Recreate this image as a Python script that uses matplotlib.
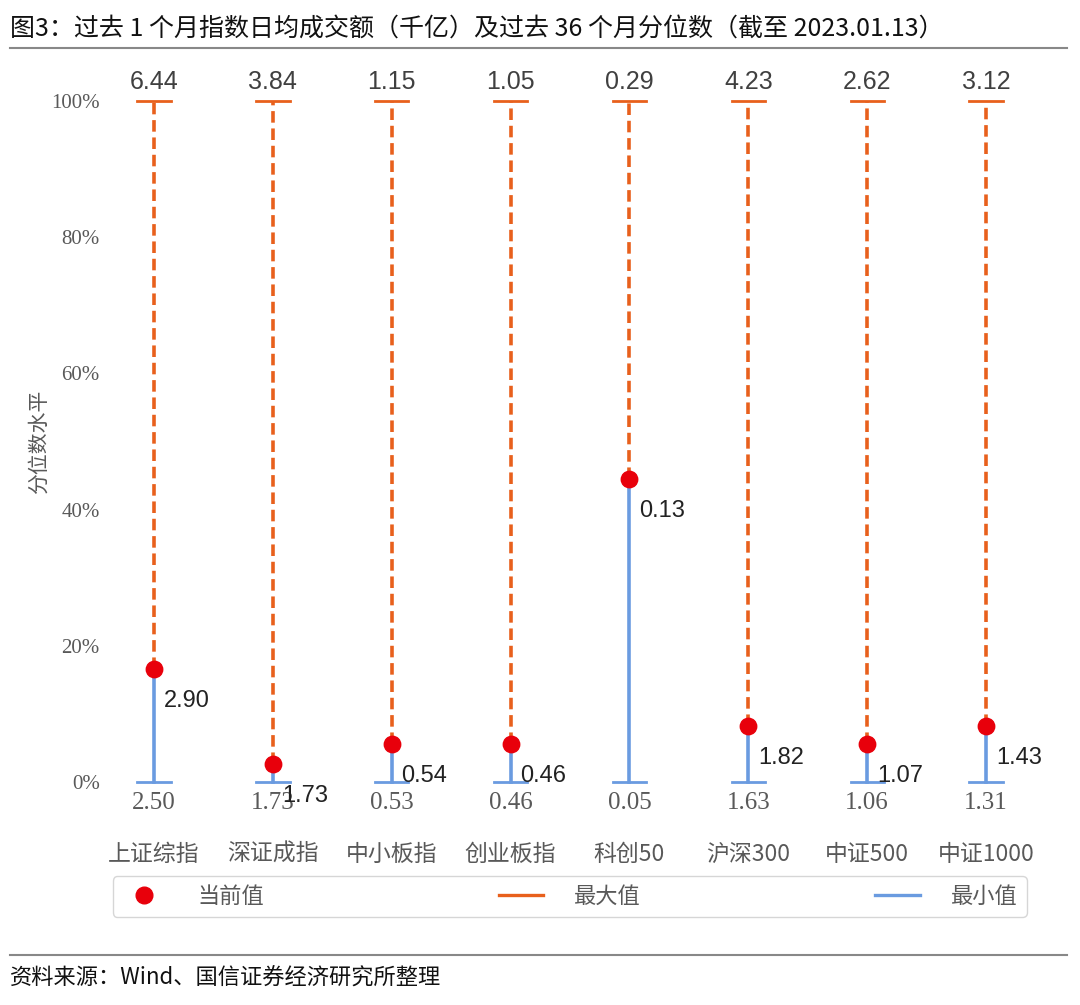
import matplotlib.pyplot as plt
from matplotlib.lines import Line2D

plt.rcParams['font.family'] = ['Noto Sans CJK SC', 'DejaVu Sans']

categories = ['上证综指', '深证成指', '中小板指', '创业板指', '科创50', '沪深300', '中证500', '中证1000']
percentile = [16.6, 2.6, 5.6, 5.6, 44.5, 8.2, 5.6, 8.2]
max_amt = [6.44, 3.84, 1.15, 1.05, 0.29, 4.23, 2.62, 3.12]
min_amt = [2.50, 1.73, 0.53, 0.46, 0.05, 1.63, 1.06, 1.31]
cur_amt = [2.90, 1.73, 0.54, 0.46, 0.13, 1.82, 1.07, 1.43]
y_ticks = [0, 20, 40, 60, 80, 100]

orange = '#e8601c'
blue = '#6a9be0'
red = '#e8000b'
grey = '#595959'

fig = plt.figure(figsize=(10.8, 10.05), dpi=100)
ax = fig.add_axes([0.1, 0.2219, 0.8676, 0.6776])
x = range(len(categories))

for i in x:
    p = percentile[i]
    ax.plot([i, i], [p, 100], color=orange, lw=2.6, ls=(0, (3.2, 1.6)), clip_on=False, zorder=2)
    ax.plot([i, i], [0, p], color=blue, lw=2.6, clip_on=False, zorder=2)
    ax.plot([i - 0.14, i + 0.14], [100, 100], color=orange, lw=2, clip_on=False)
    ax.plot([i - 0.14, i + 0.14], [0, 0], color=blue, lw=2, clip_on=False)
    ax.annotate(f'{max_amt[i]:.2f}', (i, 100), xytext=(0, 5), textcoords='offset points',
                ha='center', va='bottom', fontsize=18, color='#404040', family=['Liberation Sans'])
    ax.annotate(f'{min_amt[i]:.2f}', (i, 0), xytext=(0, -7), textcoords='offset points',
                ha='center', va='top', fontsize=18, color=grey, family=['Liberation Serif'])
    ax.annotate(f'{cur_amt[i]:.2f}', (i, p), xytext=(7, -23), textcoords='offset points',
                ha='left', va='center', fontsize=17, color='#222222', family=['Liberation Sans'])

ax.scatter(list(x), percentile, s=140, color=red, zorder=4, clip_on=False)

ax.set_xlim(-0.387, 7.496)
ax.set_ylim(0, 100)
ax.set_yticks(y_ticks)
ax.set_yticklabels([f'{t}%' for t in y_ticks], family=['Liberation Serif'], fontsize=15, color=grey)
ax.set_xticks(list(x))
ax.set_xticklabels(categories, fontsize=16.5, color=grey)
ax.tick_params(axis='x', length=0, pad=44)
ax.tick_params(axis='y', length=0, pad=6)
for s in ax.spines.values():
    s.set_visible(False)
ax.set_ylabel('分位数水平', fontsize=15, color=grey)
ax.yaxis.set_label_coords(-0.062, 0.5)

handles = [
    Line2D([], [], marker='o', color=red, ls='none', markersize=12),
    Line2D([], [], color=orange, lw=2.4),
    Line2D([], [], color=blue, lw=2.4),
]
fig.legend(handles, ['当前值', '最大值', '最小值'], loc='center', ncol=3, mode='expand',
           bbox_to_anchor=(0.1046, 0.0866, 0.846, 0.0428), borderaxespad=0, fontsize=16,
           frameon=True, edgecolor='#cccccc', fancybox=True, handlelength=2.0,
           handletextpad=1.4, labelcolor=grey)

fig.text(0.009, 0.972, '图3：过去 1 个月指数日均成交额（千亿）及过去 36 个月分位数（截至 2023.01.13）',
         fontsize=18, color='#111111', va='center')
fig.add_artist(Line2D([0.009, 0.988], [0.952, 0.952], color='#888888', lw=1.5))
fig.add_artist(Line2D([0.009, 0.988], [0.05, 0.05], color='#888888', lw=1.5))
fig.text(0.009, 0.027, '资料来源：Wind、国信证券经济研究所整理', fontsize=16, color='#111111', va='center')

fig.savefig('out.png', dpi=100)
